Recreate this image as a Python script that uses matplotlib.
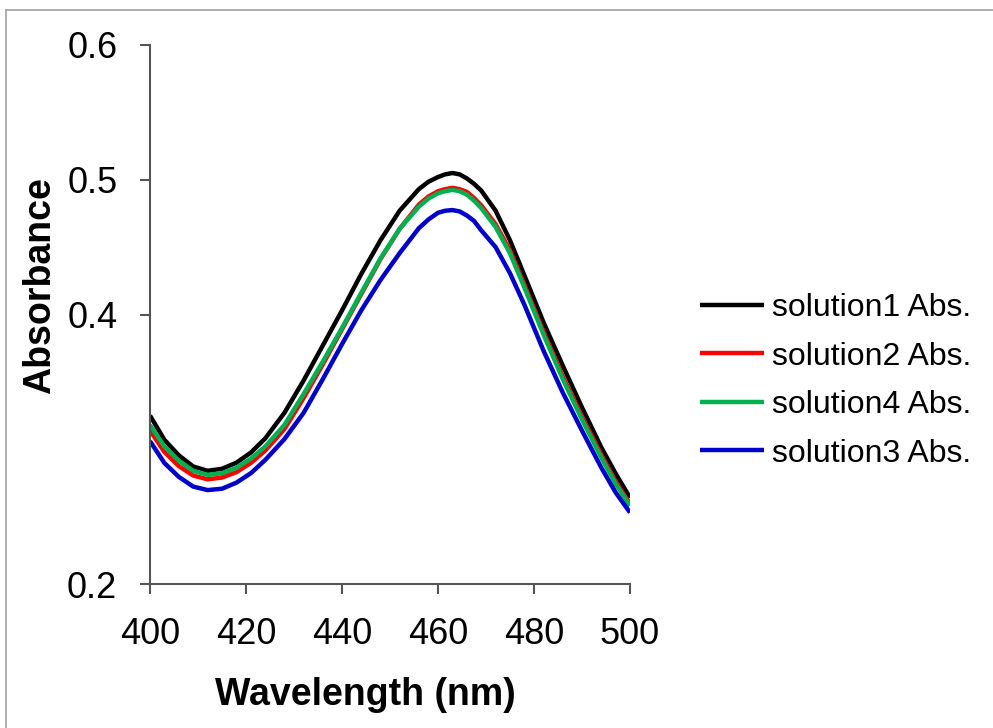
import matplotlib
matplotlib.use("Agg")
import matplotlib.pyplot as plt
from matplotlib.lines import Line2D

plt.rcParams['font.family'] = ['Liberation Sans', 'DejaVu Sans']

wavelength = [400, 403, 406, 409, 412, 415, 418, 421, 424, 428, 432, 436, 440, 444, 448,
              452, 456, 458, 460, 461.5, 463, 464.5, 466, 467.5, 469, 472, 475, 478, 482,
              486, 490, 494, 497, 500]

solution1 = [0.325, 0.307, 0.2955, 0.2872, 0.2840, 0.2855, 0.2900, 0.2975, 0.308, 0.327,
             0.351, 0.377, 0.403, 0.430, 0.455, 0.477, 0.493, 0.4985, 0.502, 0.504,
             0.505, 0.504, 0.501, 0.497, 0.492, 0.477, 0.455, 0.429, 0.394, 0.362,
             0.331, 0.3015, 0.282, 0.264]
solution2 = [0.314, 0.298, 0.2875, 0.2805, 0.2777, 0.2790, 0.2830, 0.2898, 0.299, 0.315,
             0.338, 0.363, 0.389, 0.415, 0.441, 0.4635, 0.4815, 0.4875, 0.4915, 0.493,
             0.494, 0.493, 0.491, 0.4865, 0.481, 0.467, 0.4475, 0.422, 0.387, 0.354,
             0.324, 0.296, 0.276, 0.2595]
solution4 = [0.318, 0.302, 0.2915, 0.2840, 0.2810, 0.2822, 0.2862, 0.2930, 0.302, 0.318,
             0.341, 0.365, 0.390, 0.416, 0.4415, 0.4635, 0.480, 0.486, 0.490, 0.4915,
             0.4925, 0.4915, 0.489, 0.4845, 0.479, 0.465, 0.4454, 0.420, 0.385, 0.352,
             0.322, 0.294, 0.2745, 0.258]
solution3 = [0.306, 0.2898, 0.2795, 0.2723, 0.2697, 0.2707, 0.2752, 0.2822, 0.2920, 0.3075,
             0.327, 0.352, 0.378, 0.403, 0.4255, 0.4455, 0.464, 0.4705, 0.4755, 0.477,
             0.4775, 0.4765, 0.4735, 0.4695, 0.4625, 0.450, 0.4306, 0.4072, 0.373, 0.342,
             0.3138, 0.2865, 0.268, 0.253]

series_labels = ['solution1 Abs.', 'solution2 Abs.', 'solution4 Abs.', 'solution3 Abs.']
series_colors = ['#000000', '#ff0000', '#00b050', '#0000c8']
x_ticks = [400, 420, 440, 460, 480, 500]
y_ticks = [0.2, 0.4, 0.5, 0.6]
y_ticklabels = ['0.2', '0.4', '0.5', '0.6']

W, H = 993, 728
fig = plt.figure(figsize=(W / 100, H / 100), dpi=100)
ax = fig.add_axes([150 / W, 1 - 584 / H, 480 / W, 539 / H])

for ys, lab, col in zip([solution1, solution2, solution4, solution3], series_labels, series_colors):
    ax.plot(wavelength, ys, color=col, lw=3.2, label=lab,
            solid_capstyle='butt', solid_joinstyle='round')

ax.set_xlim(400, 500)
ax.set_ylim(0.2, 0.6)
ax.set_xticks(x_ticks)
ax.set_xticklabels([str(v) for v in x_ticks])
ax.set_yticks(y_ticks)
ax.set_yticklabels(y_ticklabels)

for s in ['top', 'right']:
    ax.spines[s].set_visible(False)
for s in ['left', 'bottom']:
    ax.spines[s].set_color('#555555')
    ax.spines[s].set_linewidth(1.5)

ax.tick_params(axis='both', direction='out', length=7.5, width=1.5, color='#555555',
               labelsize=26, labelcolor='black', pad=16)

fig.text(40 / W, 1 - 286 / H, 'Absorbance', rotation=90, fontsize=27, fontweight='bold',
         ha='center', va='center')
fig.text(365 / W, 1 - 705 / H, 'Wavelength (nm)', fontsize=27, fontweight='bold',
         ha='center', va='baseline')

handles, labels = ax.get_legend_handles_labels()
fig.legend(handles, labels, loc='upper left', bbox_to_anchor=(700 / W, 1 - 293 / H),
           frameon=False, fontsize=23, borderpad=0, borderaxespad=0,
           handlelength=2.0, handletextpad=0.25, labelspacing=0.58)

# outer frame (light gray), partly outside the image
fig.add_artist(Line2D([6 / W, 6 / W], [0, 1 - 10 / H], transform=fig.transFigure,
                      color='#a0a0a0', lw=1.2))
fig.add_artist(Line2D([6 / W, 1], [1 - 10 / H, 1 - 10 / H], transform=fig.transFigure,
                      color='#a0a0a0', lw=1.2))

fig.savefig('out.png', dpi=100)
